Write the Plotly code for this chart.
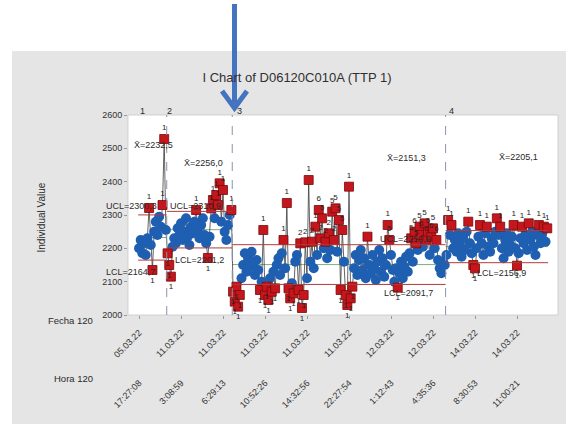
import plotly.graph_objects as go

# ---------------- data ----------------
stage1 = [2200, 2225, 2185, 2215, 2180, 2230, 2321, 2210, 2135, 2250, 2280, 2240,
          2295, 2265, 2330, 2528, 2255]
stage2 = [2185, 2150, 2115, 2205, 2230, 2215, 2260, 2240, 2275, 2225, 2250, 2290,
          2235, 2210, 2265, 2245, 2280, 2315, 2255, 2230, 2270, 2290, 2240, 2215,
          2171, 2235, 2320, 2345, 2290, 2360, 2330, 2395, 2280, 2375, 2250, 2225,
          2270, 2300, 2315]
stage3 = [2070, 2040, 2085, 2025, 2060, 2110, 2150, 2185, 2130, 2170, 2145, 2190,
          2155, 2120, 2165, 2135, 2075, 2100, 2255, 2060, 2085, 2045, 2110, 2070,
          2130, 2080, 2150, 2170, 2120, 2185, 2225, 2140, 2336, 2080, 2050, 2095,
          2065, 2160, 2180, 2075, 2215, 2021, 2060, 2218, 2110, 2405, 2160, 2220,
          2140, 2265, 2180, 2315, 2230, 2290, 2200, 2220, 2170, 2245, 2195, 2310,
          2225, 2320, 2190, 2285, 2075, 2255, 2160, 2060, 2030, 2385, 2050, 2085,
          2140, 2180, 2120, 2165, 2195, 2135, 2170, 2110, 2235, 2150, 2125, 2180,
          2140, 2105, 2160, 2195, 2130, 2170, 2115, 2150, 2270, 2225, 2180, 2135,
          2100, 2140, 2082, 2125, 2160, 2110, 2145, 2175, 2130, 2185, 2230, 2160,
          2250, 2215, 2195, 2265, 2240, 2205, 2275, 2225, 2250, 2180, 2235, 2260,
          2200, 2225, 2165, 2140, 2125, 2160, 2150]
stage4 = [2180, 2285, 2240, 2270, 2200, 2225, 2190, 2245, 2210, 2175, 2230, 2195,
          2250, 2280, 2215, 2185, 2150, 2140, 2200, 2235, 2270, 2215, 2180, 2245,
          2265, 2205, 2190, 2230, 2215, 2250, 2290, 2240, 2265, 2200, 2170, 2225,
          2245, 2190, 2210, 2235, 2270, 2200, 2148, 2185, 2230, 2265, 2215, 2240,
          2195, 2275, 2225, 2250, 2205, 2180, 2240, 2270, 2215, 2245, 2265, 2220,
          2260]

stage_values = [stage1, stage2, stage3, stage4]
stage_names = ["1", "2", "3", "4"]
means = [2232.5, 2256.0, 2151.3, 2205.1]
ucls = [2300.3, 2310.9, 2210.9, 2253.3]
lcls = [2164.7, 2201.2, 2091.7, 2156.9]
mean_txt = ["X\u0304=2232,5", "X\u0304=2256,0", "X\u0304=2151,3", "X\u0304=2205,1"]
ucl_txt = ["UCL=2300,3", "UCL=2310,9", "UCL=2210,9", None]
lcl_txt = ["LCL=2164,7", "LCL=2201,2", "LCL=2091,7", "LCL=2156,9"]

# failed-test labels (observation number -> test)
flags = {7: "1", 9: "1", 15: "1", 16: "1",
         18: "1", 19: "1", 20: "1", 35: "1", 42: "1", 44: "1", 45: "1", 47: "1",
         48: "1", 49: "1", 51: "1", 56: "1",
         57: "1", 58: "1", 59: "1", 60: "1", 61: "1", 73: "1", 75: "1", 76: "1",
         77: "1", 78: "1", 80: "1", 82: "1", 87: "1", 89: "1", 90: "1", 91: "1",
         93: "1", 96: "1", 97: "2", 98: "1", 99: "1", 100: "2", 102: "1", 104: "2",
         106: "1", 108: "6", 109: "2", 110: "5", 112: "2", 114: "2", 116: "5",
         117: "2", 118: "5", 120: "5", 121: "1", 122: "5", 124: "1", 125: "1",
         126: "1", 127: "1", 128: "1", 137: "1", 149: "1", 150: "5", 155: "1",
         163: "5", 165: "6", 166: "5", 168: "5", 169: "6", 171: "5", 172: "6",
         173: "5", 175: "6", 176: "5", 178: "6",
         185: "1", 187: "1", 197: "1", 200: "1", 201: "1", 204: "1", 208: "1",
         214: "1", 216: "1", 224: "1", 226: "1", 229: "1", 233: "1", 239: "1",
         242: "1", 244: "1"}

tick_obs = [1, 26, 51, 76, 101, 126, 151, 176, 201, 226]
fecha = ["05.03.22", "11.03.22", "11.03.22", "11.03.22", "11.03.22",
         "11.03.22", "12.03.22", "12.03.22", "14.03.22", "14.03.22"]
hora = ["17:27:08", "3:08:59", "6:29:13", "10:52:26", "14:32:56",
        "22:27:54", "1:12:43", "4:35:36", "8:30:53", "11:00:21"]

# ---------------- layout geometry ----------------
W, H = 573, 429
ML, MR, MT, MB = 128, 15, 115, 40
PW = W - ML - MR
PH = H - MT - MB
Y_BOTTOM = 315


def px(x):
    return (x - ML) / PW


def py(y):
    return (H - MB - y) / PH


def ix(xpix):  # pixel -> observation coordinate
    return 1 + (xpix - 139) / 1.68


def vy(ypix):  # pixel -> value coordinate
    return 2000 + (Y_BOTTOM - ypix) * 3


# ---------------- series assembly ----------------
obs, vals, stage_of = [], [], []
n = 0
bounds = []
for s, sv in enumerate(stage_values):
    start = n + 1
    for v in sv:
        n += 1
        obs.append(n)
        vals.append(v)
        stage_of.append(s)
    bounds.append((start, n))

blue_x, blue_y, red_x, red_y, red_t, red_pos = [], [], [], [], [], []
for o, v, s in zip(obs, vals, stage_of):
    if o in flags:
        red_x.append(o)
        red_y.append(v)
        red_t.append(flags[o])
        red_pos.append("top center" if v > means[s] else "bottom center")
    else:
        blue_x.append(o)
        blue_y.append(v)

xr = [ix(ML), ix(W - MR)]

fig = go.Figure()
fig.add_trace(go.Scatter(x=obs, y=vals, mode="lines",
                         line=dict(color="#3c3c3c", width=0.8),
                         hoverinfo="skip", showlegend=False))
fig.add_trace(go.Scatter(x=blue_x, y=blue_y, mode="markers",
                         marker=dict(symbol="circle", size=10, color="#1f5fb2",
                                     line=dict(width=0)),
                         showlegend=False))
fig.add_trace(go.Scatter(x=red_x, y=red_y, mode="markers+text",
                         text=red_t, textposition=red_pos,
                         textfont=dict(size=8, color="#222222",
                                       family="Liberation Sans, Arial"),
                         marker=dict(symbol="square", size=9, color="#c4161c",
                                     line=dict(width=0.8, color="#7a0a0a")),
                         cliponaxis=False, showlegend=False))
fig.add_trace(go.Scatter(x=[tick_obs[0]], y=[2300], xaxis="x2", mode="markers",
                         marker=dict(opacity=0), hoverinfo="skip",
                         showlegend=False))

shapes = []
# gray panel and white data region
shapes.append(dict(type="rect", xref="paper", yref="paper", layer="below",
                   x0=px(12), x1=px(566), y0=py(424), y1=py(51),
                   fillcolor="#e5e5e5", line=dict(width=0)))
shapes.append(dict(type="rect", xref="x domain", yref="y domain", layer="below",
                   x0=0, x1=1, y0=0, y1=1, fillcolor="white",
                   line=dict(width=0.8, color="#c8c8c8")))
# stage separators
for (a, b) in bounds[:-1]:
    shapes.append(dict(type="line", xref="x", yref="y domain", x0=b + 0.5,
                       x1=b + 0.5, y0=0, y1=1, layer="above",
                       line=dict(color="#8a94aa", width=1, dash="dash")))
# control limits and centre lines
for s, (a, b) in enumerate(bounds):
    x0, x1 = a - 0.5, b + 0.5
    shapes.append(dict(type="line", xref="x", yref="y", x0=x0, x1=x1,
                       y0=means[s], y1=means[s], layer="below",
                       line=dict(color="#3f8f4a", width=0.7)))
    for lim in (ucls[s], lcls[s]):
        shapes.append(dict(type="line", xref="x", yref="y", x0=x0, x1=x1,
                           y0=lim, y1=lim, layer="above",
                           line=dict(color="#b03a3a", width=1)))
# blue arrow
ARROW = "#4474c0"
shapes.append(dict(type="line", xref="paper", yref="paper",
                   x0=px(234.5), x1=px(234.5), y0=py(4), y1=py(104),
                   line=dict(color=ARROW, width=5)))
shapes.append(dict(type="path", xref="paper", yref="paper",
                   path=f"M{px(222)},{py(91)} L{px(234.5)},{py(108)} L{px(247)},{py(91)}",
                   line=dict(color=ARROW, width=5)))

FONT = "Liberation Sans, Arial, sans-serif"
TXT = "#2a2a2a"
ann = []
lab_font = dict(size=9, color=TXT, family=FONT)
# limit labels (pixel positions)
mean_pos = [(153, 145), (203, 163), (406, 158), (518, 157)]
ucl_pos = [(131, 206), (195, 206), (405, 239), None]
lcl_pos = [(130, 272), (199, 260), (408, 293), (501, 273)]
for s in range(4):
    xx, yy = mean_pos[s]
    ann.append(dict(x=ix(xx), y=vy(yy), xref="x", yref="y", text=mean_txt[s],
                    showarrow=False, font=lab_font))
    if ucl_txt[s]:
        xx, yy = ucl_pos[s]
        ann.append(dict(x=ix(xx), y=vy(yy), xref="x", yref="y", text=ucl_txt[s],
                        showarrow=False, font=lab_font))
    xx, yy = lcl_pos[s]
    ann.append(dict(x=ix(xx), y=vy(yy), xref="x", yref="y", text=lcl_txt[s],
                    showarrow=False, font=lab_font))
# stage numbers
stage_lab_x = [142, 169, 239, 451]
for s in range(4):
    ann.append(dict(x=ix(stage_lab_x[s]), y=py(104), xref="x", yref="paper",
                    text=stage_names[s], showarrow=False, font=lab_font))
# axis title and stamp labels
ann.append(dict(x=px(33), y=py(218), xref="paper", yref="paper",
                text="Individual Value", textangle=-90, showarrow=False,
                font=dict(size=10, color=TXT, family=FONT)))
ann.append(dict(x=px(95), y=py(328), xref="paper", yref="paper",
                text="Fecha 120", xanchor="right", showarrow=False,
                font=dict(size=9.5, color=TXT, family=FONT)))
ann.append(dict(x=px(95), y=py(386), xref="paper", yref="paper",
                text="Hora 120", xanchor="right", showarrow=False,
                font=dict(size=9.5, color=TXT, family=FONT)))

tickfont = dict(size=9, color="#333333", family=FONT)
fig.update_layout(
    width=W, height=H,
    margin=dict(l=ML, r=MR, t=MT, b=MB, autoexpand=False),
    paper_bgcolor="white", plot_bgcolor="white",
    title=dict(text="I Chart of D06120C010A (TTP 1)", x=px(297), xref="paper",
               xanchor="center", y=1 - 77 / H, yref="container", yanchor="middle",
               font=dict(size=13, color="#303030", family=FONT)),
    xaxis=dict(range=xr, tickmode="array", tickvals=tick_obs, ticktext=fecha,
               tickangle=-45, ticks="outside", ticklen=3, tickcolor="#999999",
               ticklabelstandoff=5, showgrid=False, zeroline=False,
               showline=False, tickfont=tickfont),
    xaxis2=dict(range=xr, overlaying="x", anchor="free", position=py(375),
                side="bottom", tickmode="array", tickvals=tick_obs,
                ticktext=hora, tickangle=-45, ticks="", showgrid=False,
                zeroline=False, showline=False, tickfont=tickfont),
    yaxis=dict(range=[2000, 2600], domain=[py(Y_BOTTOM), 1], tickmode="array",
               tickvals=[2000, 2100, 2200, 2300, 2400, 2500, 2600],
               ticks="outside", ticklen=3, tickcolor="#999999",
               showgrid=False, zeroline=False, showline=False,
               tickfont=tickfont),
    shapes=shapes, annotations=ann,
)

fig.write_html("out.html")
